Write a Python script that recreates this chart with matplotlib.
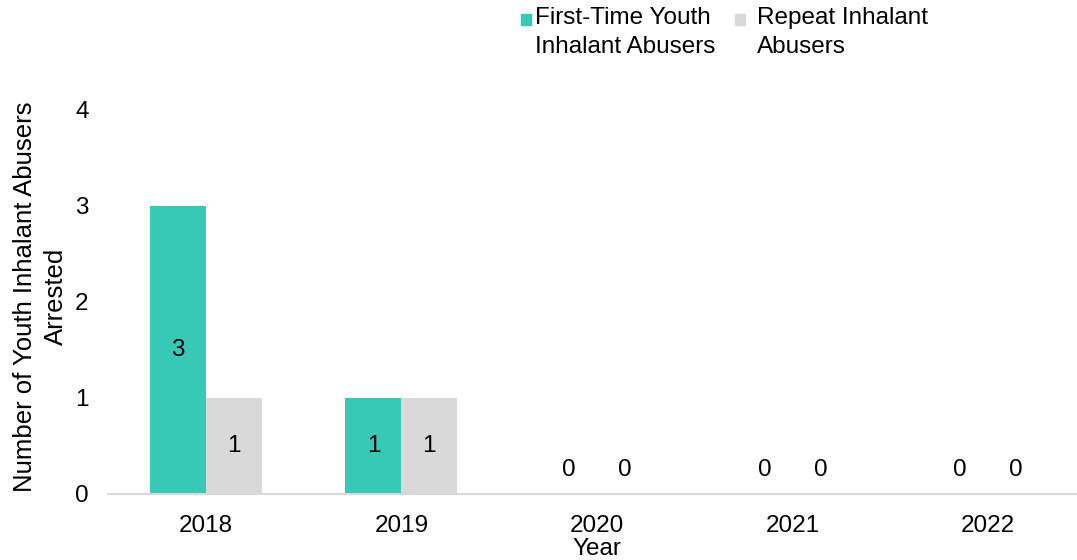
import matplotlib
matplotlib.use("Agg")
import matplotlib.pyplot as plt
from matplotlib.patches import Rectangle
import numpy as np

plt.rcParams['font.family'] = ['Liberation Sans', 'DejaVu Sans']

years = ["2018", "2019", "2020", "2021", "2022"]
first_time = [3, 1, 0, 0, 0]
repeat = [1, 1, 0, 0, 0]
series_names = ["First-Time Youth\nInhalant Abusers", "Repeat Inhalant\nAbusers"]

teal = "#38C8B6"
gray = "#D9D9D9"
fs = 17.5

fig = plt.figure(figsize=(10.77, 5.6), dpi=100)
ax = fig.add_axes([108 / 1077, 66 / 560, 978 / 1077, 384 / 560])

x = np.arange(len(years))
w = 0.286
b1 = ax.bar(x - w / 2, first_time, w, color=teal)
b2 = ax.bar(x + w / 2, repeat, w, color=gray)

for bars, vals in ((b1, first_time), (b2, repeat)):
    for r, v in zip(bars, vals):
        yy = v / 2 if v > 0 else 0.25
        ax.text(r.get_x() + r.get_width() / 2, yy, str(v), ha="center", va="center", fontsize=fs)

ax.set_xlim(-0.5, len(years) - 0.5)
ax.set_ylim(0, 4)
ax.set_yticks([0, 1, 2, 3, 4])
ax.set_xticks(x)
ax.set_xticklabels(years)
ax.tick_params(axis="both", length=0, labelsize=fs)
ax.tick_params(axis="y", pad=14)
ax.tick_params(axis="x", pad=15)
for s in ["top", "right", "left"]:
    ax.spines[s].set_visible(False)
ax.spines["bottom"].set_color(gray)
ax.spines["bottom"].set_linewidth(1.5)

ax.set_xlabel("Year", fontsize=fs, labelpad=1)
ax.set_ylabel("Number of Youth Inhalant Abusers\nArrested", fontsize=18.5, linespacing=1.35)
ax.yaxis.set_label_coords(-0.041, 0.514)

# legend drawn by hand to get the marker on the first line
for (px, tx, col, name) in ((521, 535, teal, series_names[0]), (735, 757, gray, series_names[1])):
    fig.add_artist(Rectangle((px / 1077, (560 - 25) / 560), 10 / 1077, 11 / 560,
                             transform=fig.transFigure, color=col))
    fig.text(tx / 1077, (560 - 7) / 560, name, fontsize=fs, ha="left", va="top", linespacing=1.41)

fig.savefig("out.png", dpi=100)
